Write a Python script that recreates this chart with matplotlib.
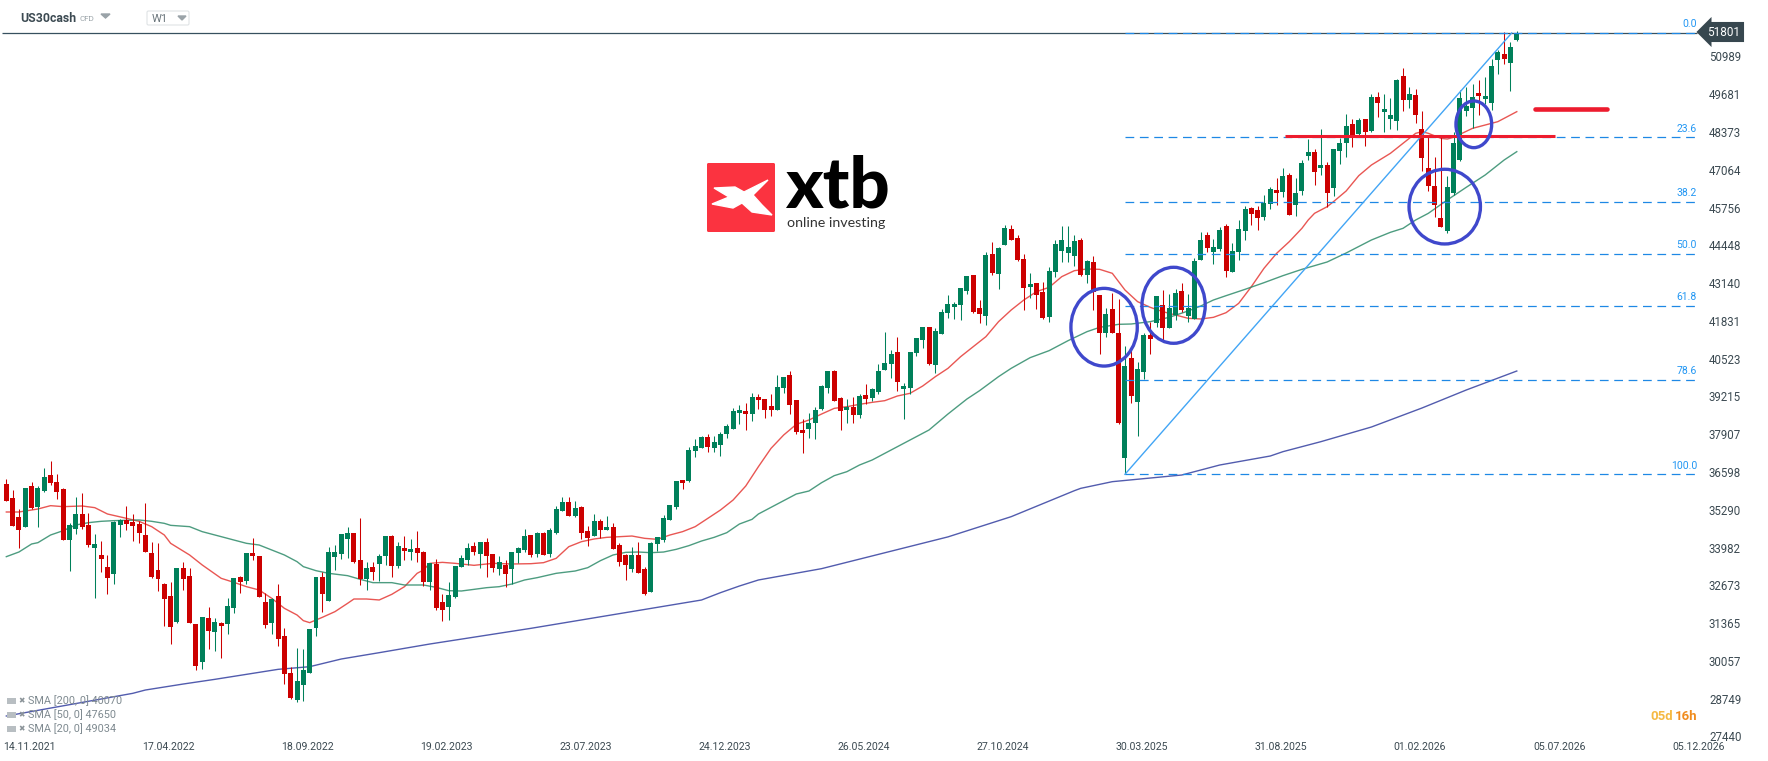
import matplotlib
matplotlib.use("Agg")
import matplotlib.pyplot as plt
from matplotlib.patches import Ellipse, Polygon, FancyBboxPatch, Rectangle

plt.rcParams['font.family'] = ['Roboto', 'DejaVu Sans']

# Weekly candles, oldest first
opens = [36182,35697,35039,34693,36112,35385,35939,36493,36251,36008,
         34242,34623,35143,34762,33965,33723,33307,33065,34762,34935,
         34866,34796,34415,33792,33203,32719,32303,31403,33273,32996,
         31333,30018,31541,31057,31368,31333,31888,32961,32822,33792,
         33688,32095,31368,32303,30917,29636,28701,29220,29636,31194,
         32960,32130,33654,33758,34277,34485,33550,32892,33307,33411,
         33688,34381,33342,33965,33827,33965,33827,32788,33411,32095,
         31921,32268,33307,33549,34034,33757,34173,33757,33238,33376,
         33238,33792,33896,34415,33757,34484,33757,34484,35246,35558,
         35073,35385,34554,34380,34900,34588,34692,34069,33723,33238,
         33723,33238,32441,34103,34242,34934,35385,36320,36285,37324,
         37428,37809,37428,37532,37913,38086,38640,38709,38605,39194,
         39125,38882,38744,39505,39956,39090,38051,38086,38293,38778,
         39505,40094,39159,38744,38847,38570,39263,39159,39368,40129,
         40337,40753,39472,39506,40718,41168,41618,40303,41376,42103,
         42311,42380,42865,43419,42276,41999,44146,43454,44458,45012,
         44700,43973,43004,43142,42830,41965,43523,44250,44181,44077,
         44631,43419,43869,42727,41411,42242,41410,37082,40544,39021,
         40060,41341,41757,42380,41583,42034,42865,41999,41895,43938,
         44804,44215,44319,45116,43523,44215,44943,45739,45670,45428,
         45878,46363,46294,46882,45843,46328,47540,47679,47125,47228,
         46432,47713,47990,48648,48302,48821,48406,49583,49064,48821,
         48752,50310,49479,49653,48475,47124,46501,45393,44943,46259,
         47401,49098,49202,49721,49514,49375,50864,51072,50760,51557]
highs = [36355,35974,35316,36043,36251,36112,36736,36978,36528,36043,
         34831,35731,35870,35177,34450,34208,33723,34900,34970,35420,
         35143,34900,35524,34173,34139,32753,32788,33273,33481,33273,
         31333,31576,31922,31541,31403,32234,32926,32996,33792,34312,
         33688,32407,32234,32719,31194,29844,30502,30467,31160,32960,
         33133,34000,34069,34450,34693,34485,35004,33481,33481,33757,
         34381,34415,34173,34381,34277,34554,33861,33446,33584,32372,
         32787,33341,33722,34138,34173,34173,34311,33757,33688,33549,
         33826,34000,34623,34415,34519,34519,34657,35419,35731,35731,
         35592,35419,34727,35142,34969,35073,34831,34138,33757,34000,
         34173,33307,34173,34346,35108,35454,36285,36320,37462,37739,
         37843,37913,37843,37982,38259,38813,38917,38986,39332,39298,
         39125,39298,39956,39886,40094,39090,38432,38640,38847,39609,
         40094,40129,39194,39125,39194,39298,39644,39505,40337,41445,
         40822,41272,39679,40753,41238,41618,41618,41572,42242,42727,
         42484,42969,43385,43419,42553,44216,44562,44389,45151,45151,
         44804,44146,43488,43142,43177,43696,44631,45116,45116,44804,
         44700,43939,44077,42727,42276,42796,42588,40960,40822,40406,
         41410,41791,42691,42899,42761,42934,43142,42761,44007,44908,
         44908,44665,45082,45185,44527,45324,45809,45774,45809,46190,
         46467,46778,47125,46952,46778,47402,48129,47783,48475,47332,
         47783,48163,48995,48821,48856,48821,49687,49756,49687,49549,
         50207,50588,49930,49860,49098,48209,47505,48267,46847,48371,
         49825,49929,50033,50172,50275,50899,51210,51822,51488,51868]
lows = [35593,34727,33965,34693,35316,34693,35905,36147,35662,34242,
        33169,34450,34623,34000,32234,33134,32372,32719,34346,34589,
        34208,34139,33827,32926,32476,31264,30641,31368,32511,31368,
        29740,29775,30468,30399,30156,30987,31714,32407,32719,33550,
        32269,31195,30987,30572,29255,28735,28632,28666,29636,30917,
        31748,32130,33203,33584,33619,33446,32684,32511,32857,32822,
        33376,32961,33273,33550,33550,33481,32649,32511,31818,31437,
        31471,32233,33307,33376,33722,33272,32961,33134,33030,32614,
        32718,33445,33826,33653,33653,33723,33653,34450,35246,35073,
        35038,34277,34034,34380,34311,34588,33930,33342,32857,33134,
        33099,32337,32441,33861,34173,34934,35315,36008,36250,37116,
        37428,37289,37289,37151,37774,38086,38259,38051,38363,38778,
        38467,38536,38744,39332,38605,37913,37255,37774,37739,38744,
        39332,39055,38051,38293,38293,38467,38951,39055,39300,40129,
        39852,39402,38433,39298,40614,40891,40303,40026,41376,41930,
        41896,41861,42761,42103,41757,41688,43419,42934,44458,44631,
        43904,42207,42623,42242,41896,41792,43350,43869,43869,43731,
        43385,43142,42207,40683,41272,41411,38259,36516,38986,37843,
        39817,40683,41618,41168,41583,41860,42137,41791,41895,43938,
        44215,43800,44250,43349,43523,43938,44631,45151,44978,45324,
        45705,45843,46120,45497,45463,46190,47402,46536,46882,45774,
        46155,47263,47505,47852,48233,47886,48371,48891,48371,48475,
        48440,49098,49202,48683,47020,46328,45427,45081,44873,46189,
        47367,48925,48509,48960,49341,49133,50379,50726,49791,51522]
closes = [35593,34727,34589,36043,35350,36043,36424,36216,35905,34242,
          34762,35143,34693,34069,34104,33584,32926,34866,34935,34796,
          34727,34485,33827,32961,32892,32199,31230,33273,32892,31368,
          29879,31576,31091,31403,31264,31957,32926,32788,33792,33688,
          32269,31299,32199,30814,29601,28770,29359,29740,31160,32960,
          32372,33827,33827,34450,34485,33481,32892,33273,33134,33688,
          34381,33342,34035,33861,33931,33792,32788,33446,31888,31817,
          32337,33341,33619,33965,33826,34173,33688,33272,33480,33064,
          33826,33965,34380,33722,34484,33723,34588,35315,35558,35073,
          35350,34484,34311,34900,34588,34692,33930,33480,33376,33723,
          33099,32372,34138,34346,35004,35454,36285,36216,37359,37497,
          37809,37462,37636,37913,38190,38709,38744,38605,39194,39090,
          38744,38744,39540,39886,38917,37982,37947,38293,38744,39575,
          40094,39055,38709,38847,38570,39228,39125,39471,40095,40372,
          40683,39714,39576,40753,41238,41618,40337,41480,42138,42415,
          42415,42969,43385,42138,42069,44112,43488,44354,45047,44631,
          43939,42969,43108,42727,41930,43558,44493,44631,44389,44597,
          43419,43904,42830,41411,42069,41411,38294,40267,39229,40164,
          41341,41202,42691,41583,42276,42795,42207,42276,43904,44631,
          44354,44388,44978,43557,44250,45012,45705,45532,45393,45913,
          46397,46259,46848,45497,46259,47298,47679,46986,47228,46259,
          47783,47990,48579,48267,48787,48371,49583,49375,49168,48960,
          50172,49479,49687,48960,47471,46501,45843,45081,46466,47990,
          49548,49271,49583,49618,49618,50656,51141,50899,51314,51801]

# Moving averages, read at the listed candle numbers
sma20_week = [1,3,6,8,10,13,15,17,20,22,24,26,27,30,32,35,37,39,41,43,45,47,48,49,51,53,55,56,58,60,62,64,66,
              67,68,70,72,75,78,81,84,86,88,90,92,94,96,98,100,102,104,106,108,110,112,114,116,118,
              120,122,124,126,128,130,132,134,136,138,140,142,144,146,148,150,152,154,156,158,160,162,
              164,166,168,170,172,174,176,178,180,182,184,186,188,190,192,194,196,198,200,202,204,
              206,207,208,210,211,213,215,217,220,222,224,225,226,228,229,230,231,233,235,237,238,240]
sma20 = [35212,35212,35316,35431,35397,35420,35362,35143,34993,34889,34704,34415,34127,33723,33377,32915,32776,32626,
         32511,32222,31876,31645,31449,31380,31564,31761,32049,32199,32199,32165,32361,32626,33088,
         33203,33434,33468,33434,33365,33434,33411,33422,33457,33607,34011,34184,34277,34334,34357,34380,34300,
         34265,34415,34531,34704,34992,35281,35627,36112,
         36781,37416,37878,38247,38397,38605,38801,38859,38940,39009,39067,39229,39322,39575,39898,40187,40591,
         40938,41284,41803,42207,42553,42842,42992,43362,43569,43627,43615,43477,42900,42496,42300,42149,42034,
         41919,41896,41953,42114,42438,43015,43650,44169,44573,
         45035,45324,45555,45785,45959,46328,46859,47228,47632,47979,48325,48383,48325,48152,48128,48186,48290,
         48498,48613,48729,48844,49075]
sma50_week = [1,3,5,6,8,10,12,14,16,18,22,24,26,27,30,32,35,37,39,41,43,45,47,48,50,52,55,57,59,62,64,66,
              67,69,71,73,75,77,79,81,83,85,88,91,93,95,97,99,101,103,105,107,109,111,113,115,117,119,
              120,124,126,128,130,132,134,136,138,147,150,153,155,158,160,163,166,169,172,174,177,179,
              182,185,188,190,192,194,197,200,203,206,208,210,213,217,220,222,224,226,229,232,235,238,240]
sma50 = [33665,33827,34104,34150,34415,34566,34762,34843,34889,34912,34935,34889,34819,34750,34704,34531,34358,34242,
         34127,34069,33896,33723,33492,33319,33180,33088,33007,32880,32765,32765,32684,32684,
         32684,32603,32487,32476,32533,32591,32626,32718,32857,32938,33088,33168,33284,33526,33723,33815,33826,
         33803,33826,33919,34046,34207,34334,34496,34796,34958,
         35142,35604,35835,35939,36227,36470,36608,36839,37012,38052,38606,39125,39414,39899,40187,40557,40799,
         41145,41457,41607,41711,41722,41803,41953,42173,42346,42553,42703,42922,43153,43396,43615,43742,43870,
         44181,44631,44897,45035,45324,45554,46016,46455,46882,47401,47690]
sma200_week = [1,21,23,29,34,44,49,54,60,68,84,111,114,117,120,130,140,150,160,170,171,176,187,193,201,203,209,217,225,232,240]
sma200 = [28147,28932,29047,29255,29417,29763,29855,30121,30340,30640,31183,32164,32418,32649,32857,33250,33800,34350,
          35050,35950,36031,36262,36493,36839,37151,37301,37647,38155,38813,39436,40094]

# Fibonacci retracement
fib_labels = ["0.0", "23.6", "38.2", "50.0", "61.8", "78.6", "100.0"]
fib_prices = [51801, 48194, 45962, 44159, 42356, 39788, 36517]

# Axis labels
price_ticks = [50989,49681,48373,47064,45756,44448,43140,41831,40523,39215,37907,36598,35290,33982,32673,31365,30057,28749,27440]
date_labels = ["14.11.2021","17.04.2022","18.09.2022","19.02.2023","23.07.2023","24.12.2023","26.05.2024",
               "27.10.2024","30.03.2025","31.08.2025","01.02.2026","05.07.2026","05.12.2026"]
date_ticks = [3.7,25.7,47.7,69.7,91.7,113.7,135.7,157.7,179.7,201.7,223.7,245.7,267.7]

last_price = 51801
support_level = 48222
target_level = 49157
legend_labels = ["SMA [200, 0] 40070", "SMA [50, 0] 47650", "SMA [20, 0] 49034"]

GREEN = "#00805a"
RED = "#cc0000"
CIRCLE = "#3f48cc"
FIB = "#1e88e5"
LINE_RED = "#ed1c2e"

fig = plt.figure(figsize=(17.68, 7.61), dpi=100)
ax = fig.add_axes([0, 0, 1, 1])
ax.set_xlim(-1.0, 278.75)
ax.set_ylim(26589, 52942)
for s in ax.spines.values():
    s.set_visible(False)

# moving averages go under the candles
ax.plot([w - 1 for w in sma20_week], sma20, color="#e53935", lw=1.0, alpha=0.85, zorder=2)
ax.plot([w - 1 for w in sma50_week], sma50, color="#2e8b6a", lw=1.0, alpha=0.85, zorder=2)
ax.plot([w - 1 for w in sma200_week], sma200, color="#3f4aa5", lw=1.0, alpha=0.9, zorder=2)

for i in range(len(opens)):
    col = GREEN if closes[i] >= opens[i] else RED
    ax.vlines(i, lows[i], highs[i], color=col, lw=0.75, zorder=3)
    ax.bar(i, abs(closes[i] - opens[i]), bottom=min(opens[i], closes[i]), width=0.79, color=col, lw=0, zorder=3)

# price line + fibo
ax.hlines(last_price, -0.7, 267.5, color="#37505f", lw=0.9, zorder=4)
for lab, p in zip(fib_labels, fib_prices):
    ax.hlines(p, 177, 267.5, color=FIB, lw=0.9, linestyles=(0, (7, 4.5)), zorder=5)
    ax.annotate(lab, (267.5, p), xytext=(0, 2.5), textcoords="offset points", ha="right", va="bottom",
                fontsize=7.5, color="#2196f3", zorder=6)
ax.plot([177, 238.2], [fib_prices[-1], fib_prices[0]], color="#42a5f5", lw=1.0, zorder=5)

# hand drawn marks
ax.hlines(support_level, 202.3, 245, color=LINE_RED, lw=2.2, zorder=6)
ax.plot([241.9, 253.3], [target_level, target_level], color=LINE_RED, lw=3.3, solid_capstyle="round", zorder=6)
circles = [(173.7, 41611, 10.5, 2691), (184.7, 42370, 10.0, 2632), (227.6, 45787, 11.3, 2587), (232.2, 48637, 5.65, 1617)]
for cx, cy, w, h in circles:
    ax.add_patch(Ellipse((cx, cy), w, h, fill=False, ec=CIRCLE, lw=2.4, zorder=7))

ax.set_xticks(date_ticks)
ax.set_xticklabels(date_labels)
ax.set_yticks(price_ticks)
ax.yaxis.tick_right()
ax.tick_params(axis="y", length=0, pad=-42.5, labelsize=8.3, labelcolor="#3c4a52")
ax.tick_params(axis="x", length=0, pad=-14, labelsize=7.6, labelcolor="#3c4a52")

# pixel overlay for the platform chrome and the logo
ov = fig.add_axes([0, 0, 1, 1], facecolor="none")
ov.set_xlim(0, 1768)
ov.set_ylim(761, 0)
ov.axis("off")

ov.text(20, 18, "US30cash", fontsize=8.8, fontweight="bold", color="#3c4a52", va="center")
ov.text(79, 19, "CFD", fontsize=5.8, color="#9aa3a8", va="center")
ov.add_patch(Polygon([(101, 14), (110, 14), (105.5, 18)], color="#9aa3a8"))
ov.add_patch(FancyBboxPatch((147, 11), 42, 14, boxstyle="round,pad=0,rounding_size=1.5", fc="white", ec="#dfe3e5", lw=0.8))
ov.text(152, 19, "W1", fontsize=8, color="#6b767c", va="center")
ov.add_patch(Polygon([(178, 16), (186, 16), (182, 20)], color="#9aa3a8"))

ov.text(1724, 32, "51801", fontsize=8.5, color="white", ha="center", va="center", zorder=8,
        bbox=dict(boxstyle="larrow,pad=0.3", fc="#37474f", ec="none"))

# logo
ov.add_patch(FancyBboxPatch((707, 163), 68, 69, boxstyle="round,pad=0,rounding_size=1.5", fc="#fb3340", ec="none"))
ov.add_patch(Polygon([(714, 188), (735, 187), (744, 192), (768, 180), (753, 195), (762, 205), (772, 215),
                      (752, 212), (742, 203), (733, 208), (712, 204), (729, 197)], color="white"))
ov.text(785, 208, "xtb", fontsize=51, fontweight=900, family="Lato", color="black", va="baseline")
ov.text(787, 227, "online investing", fontsize=10.3, family="Lato", color="#333333", va="baseline")

# countdown
ov.text(1650, 716, "05d", fontsize=9.5, color="#f5b942", va="center", fontweight="bold")
ov.text(1697, 716, "16h", fontsize=9.5, color="#f08c1e", va="center", ha="right", fontweight="bold")

# indicator legend
for y, lab in zip([701, 715, 729], legend_labels):
    ov.add_patch(Rectangle((7, y - 3), 9, 6, fc="#b8bec2", ec="none"))
    ov.text(18, y, "\u2716", fontsize=5.5, color="#8a9398", va="center")
    ov.text(28, y, lab, fontsize=7.8, color="#7f8a90", va="center")

fig.savefig("out.png", dpi=100)
